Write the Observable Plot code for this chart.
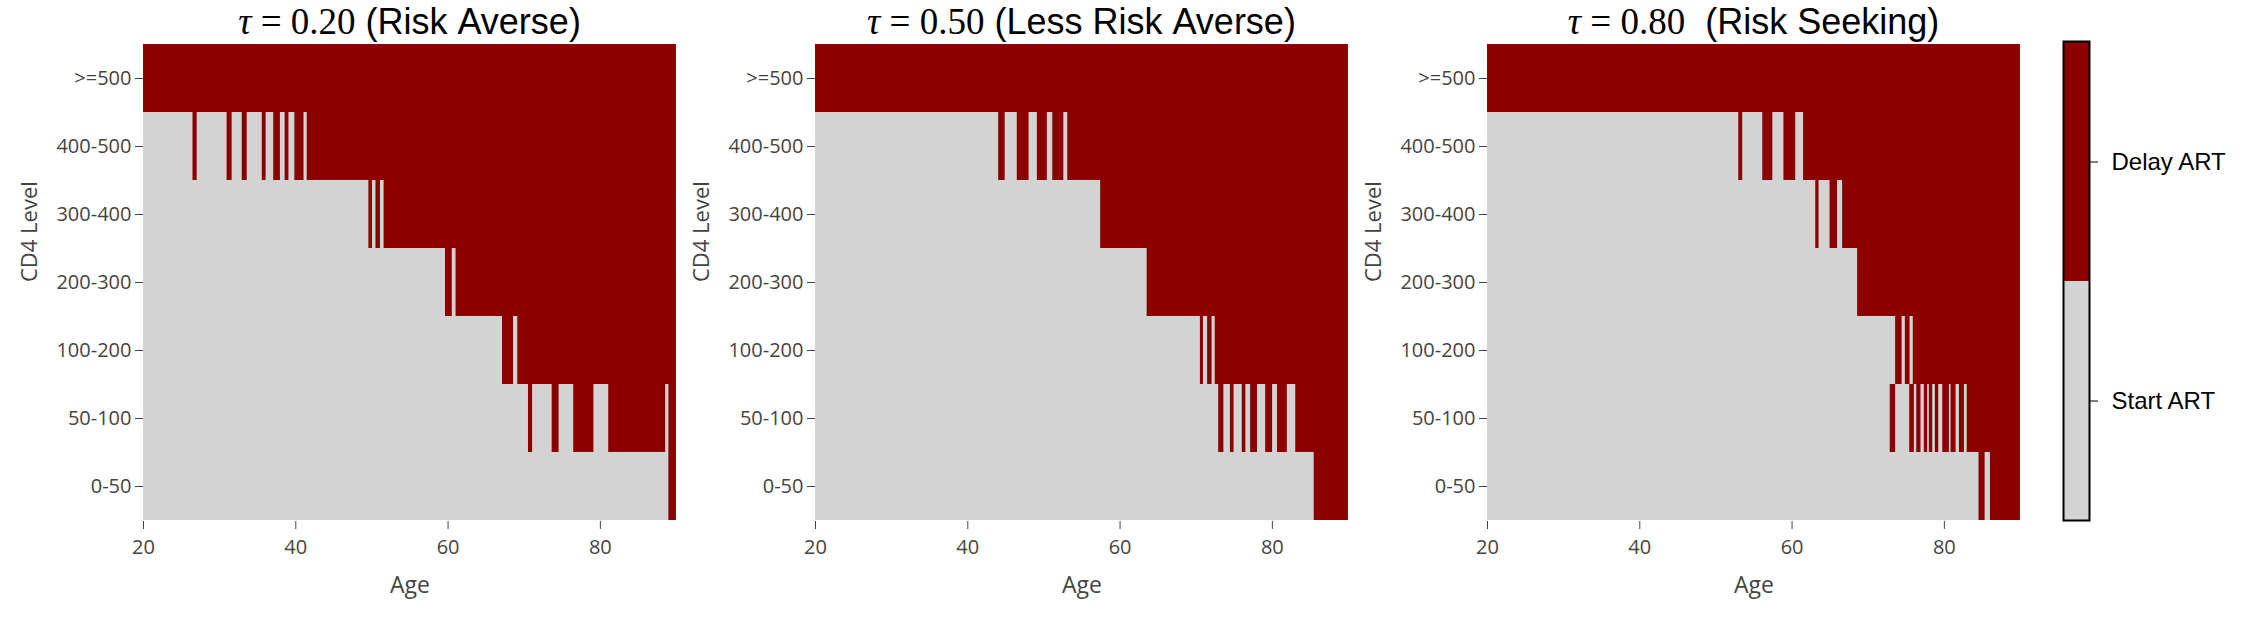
<!DOCTYPE html>
<html>
<head>
<meta charset="utf-8">
<script src="https://cdn.jsdelivr.net/npm/d3@7"></script>
<script src="https://cdn.jsdelivr.net/npm/@observablehq/plot@0.6"></script>
<style>
  body { margin: 0; background: #fff; }
  #wrap { position: relative; width: 2256px; height: 618px; overflow: hidden; }
  .panel { position: absolute; top: 0; }
  .title { position: absolute; top: 0px; font-family: "Liberation Sans", Arial, sans-serif; font-size: 36px; color: #000; text-align: center; white-space: nowrap; line-height: 44px; }
  .math { font-family: "Liberation Serif", "DejaVu Serif", serif; font-size: 37px; }
  .math i { font-style: italic; }
</style>
</head>
<body>
<div id="wrap"></div>
<script>
// ---------- data ----------
const cd4Levels = ["0-50", "50-100", "100-200", "200-300", "300-400", "400-500", ">=500"];
const decisions = ["Start ART", "Delay ART"];
const decisionColors = ["#d3d3d3", "#8b0000"];
const ageDomain = [20, 90];
const ageTicks = [20, 40, 60, 80];

const tauValues = ["0.20", "0.50", "0.80"];
const tauLabels = ["(Risk Averse)", "(Less Risk Averse)", " (Risk Seeking)"];

// "Delay ART" age intervals per CD4 level (everything else is "Start ART")
const delayTau020 = [
  [">=500", 20, 90],
  ["400-500", 26.5, 27.05], ["400-500", 30.98, 31.64], ["400-500", 32.97, 33.62],
  ["400-500", 35.6, 36.1], ["400-500", 37.1, 37.98], ["400-500", 38.6, 39.1],
  ["400-500", 39.88, 41.08], ["400-500", 41.5, 90],
  ["300-400", 49.6, 50.07], ["300-400", 50.53, 51.12], ["300-400", 51.6, 90],
  ["200-300", 59.66, 60.55], ["200-300", 61.05, 90],
  ["100-200", 67.15, 68.6], ["100-200", 69.15, 90],
  ["50-100", 70.56, 71.1], ["50-100", 73.67, 74.58], ["50-100", 76.5, 79.15],
  ["50-100", 81.1, 88.58], ["50-100", 89.0, 90],
  ["0-50", 89.0, 90]
];

const delayTau050 = [
  [">=500", 20, 90],
  ["400-500", 44.06, 44.91], ["400-500", 46.5, 48.05], ["400-500", 49.14, 50.45],
  ["400-500", 51.16, 52.61], ["400-500", 53.13, 90],
  ["300-400", 57.45, 90],
  ["200-300", 63.56, 90],
  ["100-200", 70.55, 70.95], ["100-200", 71.5, 72.08], ["100-200", 72.5, 90],
  ["50-100", 72.95, 73.63], ["50-100", 74.49, 74.97], ["50-100", 76.05, 76.52],
  ["50-100", 77.15, 78.05], ["50-100", 79.12, 80.03], ["50-100", 80.68, 81.97],
  ["50-100", 83.07, 90],
  ["0-50", 85.5, 90]
];

const delayTau080 = [
  [">=500", 20, 90],
  ["400-500", 53.0, 53.52], ["400-500", 56.15, 57.47], ["400-500", 58.93, 60.48], ["400-500", 61.51, 90],
  ["300-400", 63.11, 63.54], ["300-400", 64.99, 65.98], ["300-400", 66.64, 90],
  ["200-300", 68.61, 90],
  ["100-200", 73.6, 74.45], ["100-200", 74.88, 75.5], ["100-200", 75.92, 90],
  ["50-100", 72.89, 73.6], ["50-100", 75.45, 76.06], ["50-100", 76.37, 76.93],
  ["50-100", 77.37, 77.81], ["50-100", 78.03, 78.47], ["50-100", 78.82, 79.26],
  ["50-100", 79.79, 80.66], ["50-100", 80.88, 81.54], ["50-100", 81.98, 82.64],
  ["50-100", 83.0, 90],
  ["0-50", 84.55, 85.35], ["0-50", 86.05, 90]
];

const panelDelays = [delayTau020, delayTau050, delayTau080];

// ---------- layout ----------
const W = 672, H = 618, ML = 139, MT = 42, MB = 97;
const panelLefts = [4, 676, 1348];
const wrap = document.getElementById("wrap");

function makePanel(delays) {
  const startRows = cd4Levels.map(level => ({level, a: ageDomain[0], b: ageDomain[1], decision: decisions[0]}));
  const delayRows = delays.map(([level, a, b]) => ({level, a, b, decision: decisions[1]}));
  return Plot.plot({
    width: W, height: H,
    marginLeft: ML, marginRight: 0, marginTop: MT, marginBottom: MB,
    style: {fontFamily: "'Open Sans', sans-serif", fontSize: "20px", color: "#444", background: "transparent"},
    x: {domain: ageDomain, ticks: ageTicks, tickSize: 8, tickPadding: 10, label: null},
    y: {domain: [...cd4Levels].reverse(), padding: 0, tickSize: 8, tickPadding: 4, label: null},
    color: {domain: decisions, range: decisionColors},
    marks: [
      Plot.barX(startRows, {x1: "a", x2: "b", y: "level", fill: "decision", inset: 0}),
      Plot.barX(delayRows, {x1: "a", x2: "b", y: "level", fill: "decision", inset: 0}),
      Plot.text(["CD4 Level"], {frameAnchor: "left", dx: -114, rotate: -90, fontSize: 22, fill: "#444"}),
      Plot.text(["Age"], {frameAnchor: "bottom", dy: 71, fontSize: 23, fill: "#444"})
    ]
  });
}

panelDelays.forEach((d, i) => {
  const div = document.createElement("div");
  div.className = "panel";
  div.style.left = panelLefts[i] + "px";
  div.style.width = W + "px";
  div.style.height = H + "px";
  div.appendChild(makePanel(d));
  const t = document.createElement("div");
  t.className = "title";
  t.style.left = ML + "px";
  t.style.width = (W - ML) + "px";
  t.innerHTML = `<span class="math"><i>τ</i> = ${tauValues[i]}</span> ${tauLabels[i].replace(/ /g, "&nbsp;")}`;
  div.appendChild(t);
  wrap.appendChild(div);
});

// ---------- colorbar ----------
const cb = Plot.plot({
  width: 236, height: H,
  marginLeft: 43, marginRight: 167, marginTop: 41, marginBottom: 98,
  style: {fontFamily: "'Liberation Sans', Arial, sans-serif", fontSize: "24px", color: "#000", background: "transparent"},
  x: {axis: null},
  y: {domain: [...decisions].reverse(), padding: 0, axis: "right", tickSize: 8, tickPadding: 14, label: null},
  color: {domain: decisions, range: decisionColors},
  marks: [
    Plot.cell(decisions, {y: d => d, fill: d => d, inset: 0}),
    Plot.frame({stroke: "#000", strokeWidth: 2})
  ]
});
const cbDiv = document.createElement("div");
cbDiv.className = "panel";
cbDiv.style.left = "2020px";
cbDiv.appendChild(cb);
wrap.appendChild(cbDiv);
</script>
</body>
</html>
